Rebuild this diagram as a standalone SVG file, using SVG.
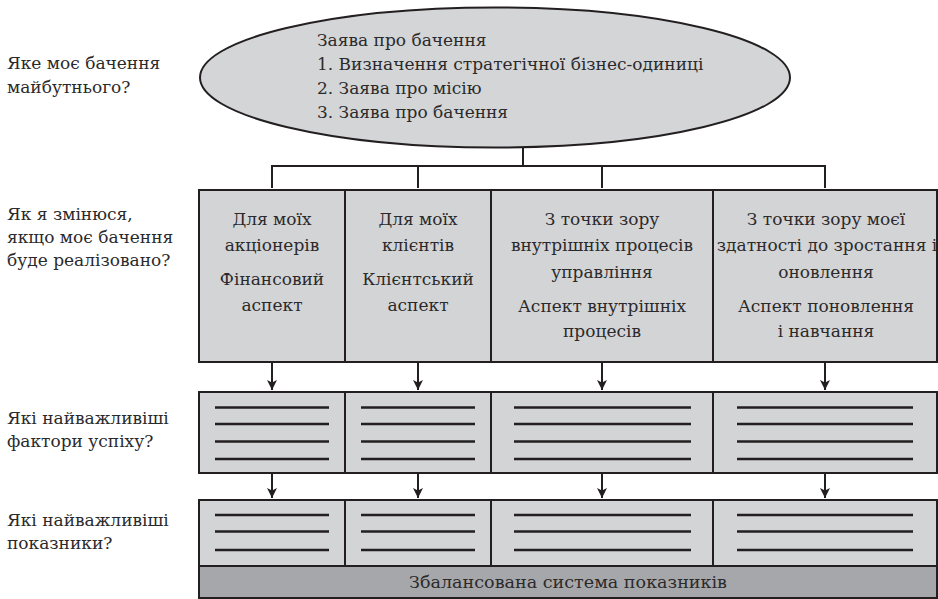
<svg xmlns="http://www.w3.org/2000/svg" width="938" height="599" viewBox="0 0 938 599">
<style>
svg text.t{font-family:'DejaVu Serif','Liberation Serif',serif;font-size:17px;fill:#2b2a2b}
svg text.c{text-anchor:middle}
.box{fill:#d3d4d6;stroke:#231f20;stroke-width:2}
.bar{fill:#a6a7aa;stroke:#231f20;stroke-width:2}
.ln{stroke:#231f20;stroke-width:2.5}
.con{stroke:#231f20;stroke-width:2;fill:none}
</style>
<defs>
<marker id="arr" markerUnits="userSpaceOnUse" viewBox="0 0 10 10" markerWidth="10" markerHeight="10" refX="10" refY="5" orient="auto">
<path d="M0,0 L10,5 L0,10 L2.5,5 z" fill="#231f20"/>
</marker>
</defs>
<rect width="938" height="599" fill="#fff"/>

<g id="labels">
<text class="t" x="7" y="69">Яке моє бачення</text>
<text class="t" x="7" y="93">майбутнього?</text>
<text class="t" x="7" y="220">Як я змінюся,</text>
<text class="t" x="7" y="243">якщо моє бачення</text>
<text class="t" x="7" y="266">буде реалізовано?</text>
<text class="t" x="7" y="424">Які найважливіші</text>
<text class="t" x="7" y="447">фактори успіху?</text>
<text class="t" x="7" y="526">Які найважливіші</text>
<text class="t" x="7" y="549">показники?</text>
</g>

<g id="vision">
<ellipse cx="495" cy="77.5" rx="295" ry="70" fill="#d4d5d7" stroke="#231f20" stroke-width="2"/>
<text class="t" x="317" y="45.5">Заява про бачення</text>
<text class="t" x="317" y="69.5">1. Визначення стратегічної бізнес-одиниці</text>
<text class="t" x="317" y="94">2. Заява про місію</text>
<text class="t" x="317" y="118">3. Заява про бачення</text>
</g>

<g id="connectors">
<path class="con" d="M523,147 V166 M272,166 H825 M272,165 V188 M418,165 V188 M602,165 V188 M825,165 V188"/>
<line class="con" x1="272" y1="362" x2="272" y2="390" marker-end="url(#arr)"/>
<line class="con" x1="418" y1="362" x2="418" y2="390" marker-end="url(#arr)"/>
<line class="con" x1="602" y1="362" x2="602" y2="390" marker-end="url(#arr)"/>
<line class="con" x1="825" y1="362" x2="825" y2="390" marker-end="url(#arr)"/>
<line class="con" x1="272" y1="473" x2="272" y2="498" marker-end="url(#arr)"/>
<line class="con" x1="418" y1="473" x2="418" y2="498" marker-end="url(#arr)"/>
<line class="con" x1="602" y1="473" x2="602" y2="498" marker-end="url(#arr)"/>
<line class="con" x1="825" y1="473" x2="825" y2="498" marker-end="url(#arr)"/>
</g>

<g id="persp-financial">
<rect class="box" x="199" y="190" width="146" height="172"/>
<text class="t c" x="272" y="225">Для моїх</text>
<text class="t c" x="272" y="251">акціонерів</text>
<text class="t c" x="272" y="285">Фінансовий</text>
<text class="t c" x="272" y="311">аспект</text>
</g>
<g id="persp-client">
<rect class="box" x="345" y="190" width="146" height="172"/>
<text class="t c" x="418" y="225">Для моїх</text>
<text class="t c" x="418" y="251">клієнтів</text>
<text class="t c" x="418" y="285">Клієнтський</text>
<text class="t c" x="418" y="311">аспект</text>
</g>
<g id="persp-internal">
<rect class="box" x="491" y="190" width="222" height="172"/>
<text class="t c" x="602" y="225">З точки зору</text>
<text class="t c" x="602" y="251">внутрішніх процесів</text>
<text class="t c" x="602" y="278">управління</text>
<text class="t c" x="602" y="312">Аспект внутрішніх</text>
<text class="t c" x="602" y="337">процесів</text>
</g>
<g id="persp-learning">
<rect class="box" x="713" y="190" width="224" height="172"/>
<text class="t c" x="826" y="225">З точки зору моєї</text>
<text class="t c" x="827" y="251">здатності до зростання і</text>
<text class="t c" x="826" y="278">оновлення</text>
<text class="t c" x="826" y="312">Аспект поновлення</text>
<text class="t c" x="826" y="337">і навчання</text>
</g>

<g id="factors-1">
<rect class="box" x="199" y="392" width="146" height="81"/>
<path class="ln" d="M215,407.5 H329 M215,424 H329 M215,441.5 H329 M215,459 H329"/>
</g>
<g id="factors-2">
<rect class="box" x="345" y="392" width="146" height="81"/>
<path class="ln" d="M361,407.5 H475 M361,424 H475 M361,441.5 H475 M361,459 H475"/>
</g>
<g id="factors-3">
<rect class="box" x="491" y="392" width="222" height="81"/>
<path class="ln" d="M514,407.5 H691 M514,424 H691 M514,441.5 H691 M514,459 H691"/>
</g>
<g id="factors-4">
<rect class="box" x="713" y="392" width="224" height="81"/>
<path class="ln" d="M737,407.5 H913 M737,424 H913 M737,441.5 H913 M737,459 H913"/>
</g>

<g id="measures-1">
<rect class="box" x="199" y="500" width="146" height="66"/>
<path class="ln" d="M215,515 H329 M215,531.5 H329 M215,550 H329"/>
</g>
<g id="measures-2">
<rect class="box" x="345" y="500" width="146" height="66"/>
<path class="ln" d="M361,515 H475 M361,531.5 H475 M361,550 H475"/>
</g>
<g id="measures-3">
<rect class="box" x="491" y="500" width="222" height="66"/>
<path class="ln" d="M514,515 H691 M514,531.5 H691 M514,550 H691"/>
</g>
<g id="measures-4">
<rect class="box" x="713" y="500" width="224" height="66"/>
<path class="ln" d="M737,515 H913 M737,531.5 H913 M737,550 H913"/>
</g>

<g id="scorecard">
<rect class="bar" x="199" y="566" width="738" height="32"/>
<text class="t c" x="568" y="588" textLength="318" lengthAdjust="spacingAndGlyphs">Збалансована система показників</text>
</g>
</svg>
